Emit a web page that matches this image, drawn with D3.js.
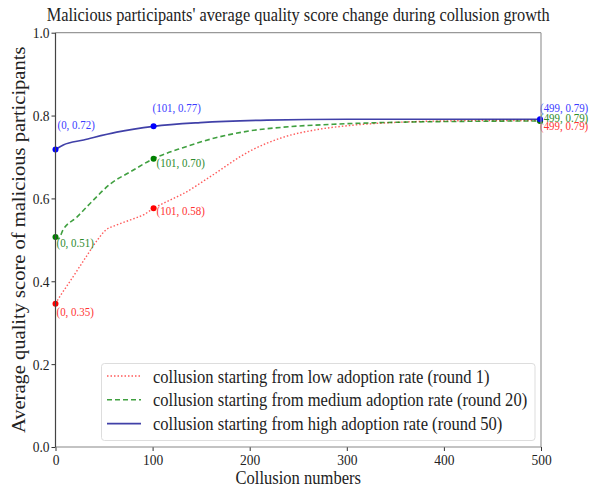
<!doctype html>
<html>
<head>
    <meta charset="UTF-8">
    <title>Malicious participants' average quality score</title>
    <script src="https://d3js.org/d3.v7.min.js"></script>
    <style>
        body { margin: 0; background: #fff; }
        text { font-family: "Liberation Serif", "DejaVu Serif", serif; }
    </style>
</head>
<body>
    <svg width="591" height="486" id="chart"></svg>
<script>
// values
var lowX  = [0, 5, 15, 29, 43, 51, 63, 77, 91, 101, 118, 132, 159, 200, 235, 269, 303, 355, 400, 450, 499];
var lowY  = [0.346, 0.365, 0.400, 0.450, 0.499, 0.522, 0.536, 0.548, 0.561, 0.576, 0.596, 0.612, 0.652, 0.714, 0.748, 0.766, 0.776, 0.784, 0.787, 0.788, 0.788];
var midX  = [0, 3, 8, 22, 39, 57, 77, 101, 132, 166, 200, 235, 286, 355, 420, 499];
var midY  = [0.507, 0.503, 0.525, 0.555, 0.596, 0.636, 0.664, 0.696, 0.723, 0.747, 0.763, 0.772, 0.779, 0.784, 0.786, 0.787];
var highX = [0, 8, 29, 63, 101, 149, 218, 300, 400, 499];
var highY = [0.718, 0.729, 0.741, 0.760, 0.774, 0.783, 0.789, 0.791, 0.791, 0.791];

var markX = [0, 101, 499];
var lowMark  = [0.346, 0.576, 0.788];
var midMark  = [0.507, 0.696, 0.787];
var highMark = [0.718, 0.774, 0.791];

var xTicks = [0, 100, 200, 300, 400, 500];
var yTicks = [0.0, 0.2, 0.4, 0.6, 0.8, 1.0];
var legendLabels = [
    "collusion starting from low adoption rate (round 1)",
    "collusion starting from medium adoption rate (round 20)",
    "collusion starting from high adoption rate (round 50)"
];

var svg = d3.select("#chart");
var plotL = 55.5, plotR = 541, plotT = 32.7, plotB = 447;

var x = d3.scaleLinear().domain([0, 500]).range([plotL, plotR]);
var y = d3.scaleLinear().domain([0, 1]).range([plotB, plotT]);

// the source image is a bit narrower than tall, so text is squeezed sideways
function squeeze(sel, k) {
    sel.each(function() {
        var w = this.getComputedTextLength();
        d3.select(this).attr("textLength", w * k).attr("lengthAdjust", "spacingAndGlyphs");
    });
}

// series styles
var series = [
    {xs: lowX,  ys: lowY,  marks: lowMark,  line: "rgba(255,0,0,0.65)", dash: "1.5,2", width: 1.4,
     dot: "#ff0000", text: "#ff3333", offs: [[1, 8], [3, 2], [0, 5]]},
    {xs: midX,  ys: midY,  marks: midMark,  line: "rgba(0,128,0,0.75)", dash: "5,3", width: 1.6,
     dot: "#008000", text: "#2e8b2e", offs: [[1, 6], [3, 4], [0, -3]]},
    {xs: highX, ys: highY, marks: highMark, line: "rgba(0,0,139,0.75)", dash: null, width: 1.6,
     dot: "#0000ff", text: "#3b3bff", offs: [[2, -25], [-1, -19], [0, -12]]}
];

var line = d3.line()
    .x(function(d) { return x(d[0]); })
    .y(function(d) { return y(d[1]); })
    .curve(d3.curveMonotoneX);

series.forEach(function(s) {
    var pts = s.xs.map(function(v, i) { return [v, s.ys[i]]; });
    svg.append("path")
        .attr("d", line(pts))
        .attr("fill", "none")
        .attr("stroke", s.line)
        .attr("stroke-width", s.width)
        .attr("stroke-dasharray", s.dash);
});

// markers + annotations
var fmt = d3.format(".2f");
series.forEach(function(s) {
    markX.forEach(function(mx, i) {
        svg.append("circle")
            .attr("cx", x(mx))
            .attr("cy", y(s.marks[i]))
            .attr("r", 3)
            .attr("fill", s.dot);
        svg.append("text")
            .attr("class", "ann")
            .attr("x", x(mx) + s.offs[i][0])
            .attr("y", y(s.marks[i]) + s.offs[i][1])
            .attr("dy", "0.35em")
            .attr("font-size", 13)
            .attr("fill", s.text)
            .text("(" + mx + ", " + fmt(s.marks[i]) + ")");
    });
});
squeeze(svg.selectAll("text.ann"), 0.84);

// axes
var xAxis = d3.axisBottom(x).tickValues(xTicks).tickSize(4).tickPadding(3).tickFormat(d3.format("d"));
var yAxis = d3.axisLeft(y).tickValues(yTicks).tickSize(4).tickPadding(2).tickFormat(d3.format(".1f"));

var gx = svg.append("g").attr("transform", "translate(0," + plotB + ")").call(xAxis);
var gy = svg.append("g").attr("transform", "translate(" + plotL + ",0)").call(yAxis);
[gx, gy].forEach(function(g) {
    g.select(".domain").remove();
    g.selectAll(".tick line").attr("stroke", "#333");
    g.selectAll(".tick text").attr("font-size", 15.5).attr("fill", "#222")
        .style("font-family", "Liberation Serif, serif");
    squeeze(g.selectAll(".tick text"), 0.87);
});

// frame
svg.append("line").attr("x1", plotL).attr("x2", plotR).attr("y1", plotT).attr("y2", plotT)
    .attr("stroke", "#999").attr("stroke-width", 1.2);
svg.append("line").attr("x1", plotR).attr("x2", plotR).attr("y1", plotT).attr("y2", plotB)
    .attr("stroke", "#999").attr("stroke-width", 1.2);
svg.append("line").attr("x1", plotL).attr("x2", plotR).attr("y1", plotB).attr("y2", plotB)
    .attr("stroke", "#888").attr("stroke-width", 1.2);
svg.append("line").attr("x1", plotL).attr("x2", plotL).attr("y1", plotT).attr("y2", plotB)
    .attr("stroke", "#444").attr("stroke-width", 1.2);

// legend
var lg = svg.append("g");
lg.append("rect")
    .attr("x", 101.5).attr("y", 363.5).attr("width", 433.5).attr("height", 77)
    .attr("rx", 3).attr("fill", "rgba(255,255,255,0.85)")
    .attr("stroke", "#ddd");
series.forEach(function(s, i) {
    var ly = 376 + i * 23.8;
    lg.append("line")
        .attr("x1", 107).attr("x2", 141).attr("y1", ly).attr("y2", ly)
        .attr("stroke", s.line).attr("stroke-width", s.width)
        .attr("stroke-dasharray", s.dash);
    lg.append("text")
        .attr("x", 153).attr("y", ly).attr("dy", "0.35em")
        .attr("font-size", 19).attr("fill", "#222")
        .text(legendLabels[i]);
});
squeeze(lg.selectAll("text"), 0.87);

// titles
var title = svg.append("text")
    .attr("x", (plotL + plotR) / 2).attr("y", 14).attr("dy", "0.35em")
    .attr("text-anchor", "middle").attr("font-size", 18.8).attr("fill", "#222")
    .text("Malicious participants' average quality score change during collusion growth");
var xLabel = svg.append("text")
    .attr("x", (plotL + plotR) / 2).attr("y", 477).attr("dy", "0.35em")
    .attr("text-anchor", "middle").attr("font-size", 19).attr("fill", "#222")
    .text("Collusion numbers");
squeeze(title, 0.87);
squeeze(xLabel, 0.87);
var yLabel = svg.append("text")
    .attr("transform", "translate(19," + (plotT + plotB) / 2 + ") rotate(-90)")
    .attr("dy", "0.35em")
    .attr("text-anchor", "middle").attr("font-size", 18).attr("fill", "#222")
    .text("Average quality score of malicious participants");
squeeze(yLabel, 1.14);
</script>
</body>
</html>
